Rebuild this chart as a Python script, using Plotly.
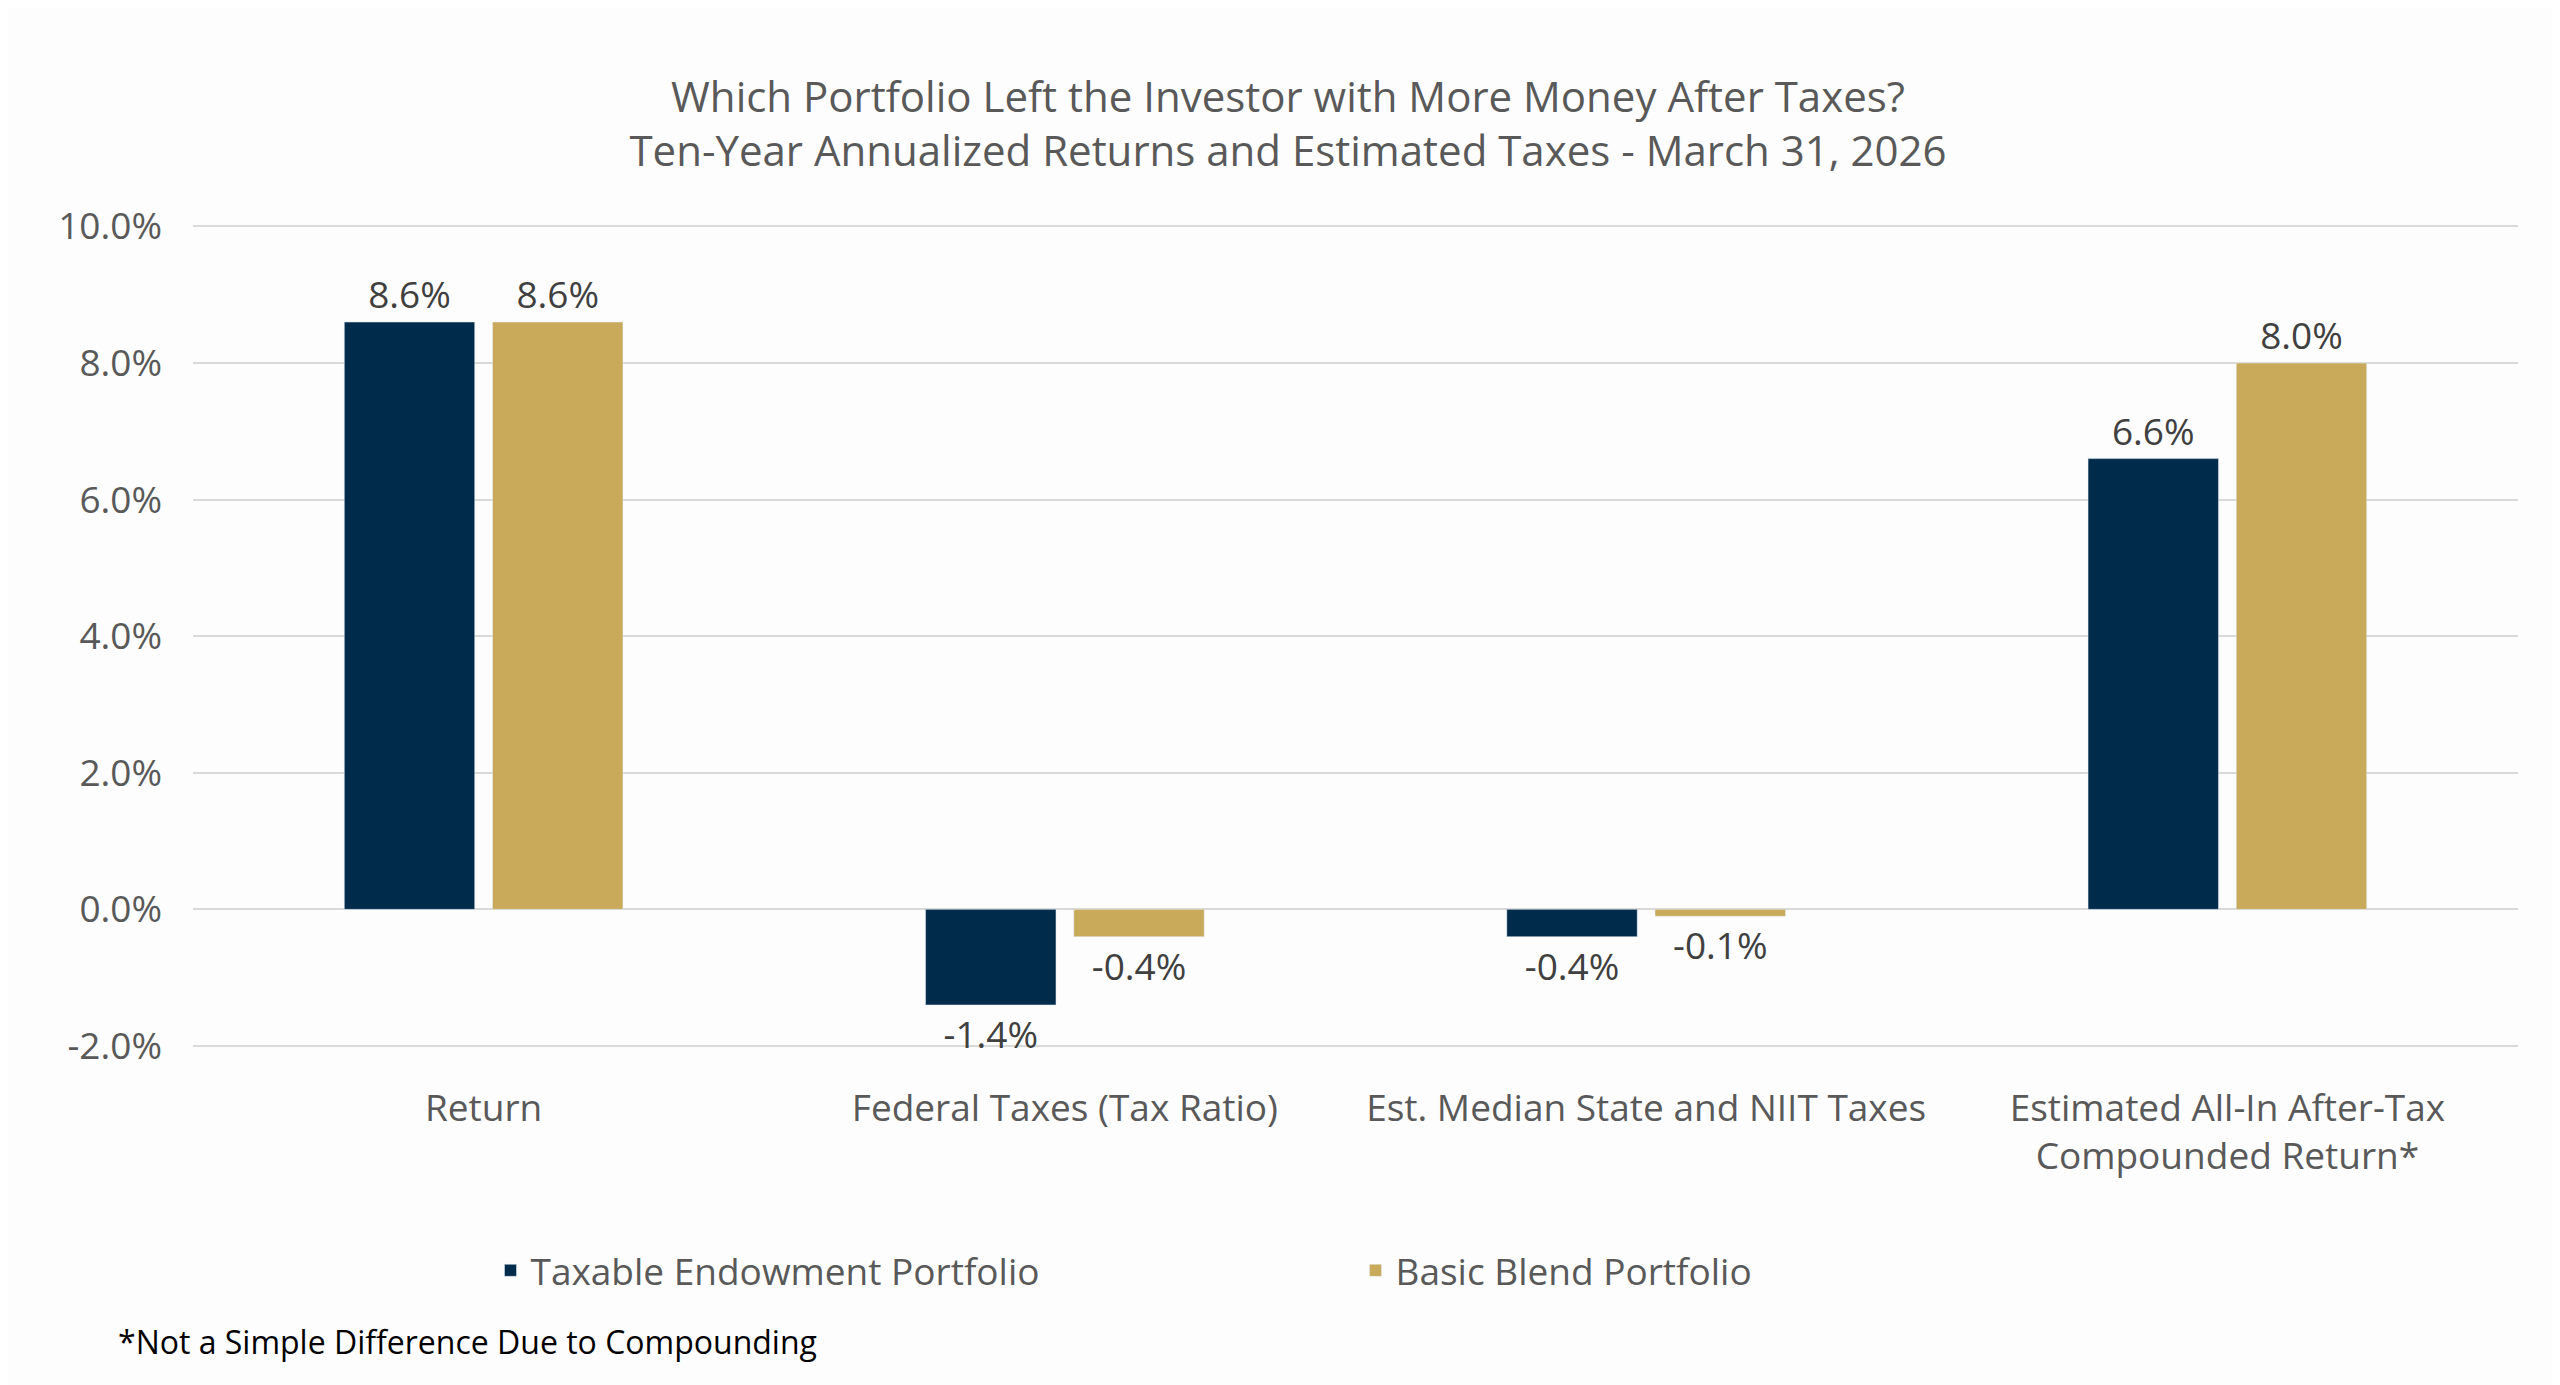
import plotly.graph_objects as go

categories = ["Return", "Federal Taxes (Tax Ratio)", "Est. Median State and NIIT Taxes",
              "Estimated All-In After-Tax<br>Compounded Return*"]
taxable = [8.6, -1.4, -0.4, 6.6]
basic = [8.6, -0.4, -0.1, 8.0]
series_names = ["Taxable Endowment Portfolio", "Basic Blend Portfolio"]
tick_vals = [-2, 0, 2, 4, 6, 8, 10]
tick_text = ["-2.0%", "0.0%", "2.0%", "4.0%", "6.0%", "8.0%", "10.0%"]

FONT = "Open Sans"
fig = go.Figure()
for name, vals, col in [(series_names[0], taxable, "#002B4B"), (series_names[1], basic, "#C9AA5B")]:
    fig.add_bar(x=categories, y=vals, name=name, marker_color=col,
                text=[f"{v:.1f}%" for v in vals], textposition="outside",
                textfont=dict(size=37, color="#404040", family=FONT), cliponaxis=False)

fig.update_layout(
    width=2560, height=1385, paper_bgcolor="#FDFDFD", plot_bgcolor="#FDFDFD",
    margin=dict(l=185, r=50, t=215, b=345),
    barmode="group", bargap=0.49, bargroupgap=0.12,
    font=dict(family=FONT, color="#595959", size=37),
    title=dict(text="Which Portfolio Left the Investor with More Money After Taxes?<br>Ten-Year Annualized Returns and Estimated Taxes - March 31, 2026",
               x=0.5, xanchor="center", y=0.925, yanchor="middle", yref="container",
               font=dict(size=42, color="#595959")),
    yaxis=dict(range=[-2.03, 10.05], tickvals=tick_vals, ticktext=tick_text, showgrid=True,
               gridcolor="#D9D9D9", gridwidth=2, zeroline=True, zerolinecolor="#D9D9D9", zerolinewidth=2,
               tickfont=dict(size=37, color="#595959"), ticks="", ticklabelstandoff=30),
    xaxis=dict(showline=False, tickfont=dict(size=37, color="#595959"), ticks="", ticklabelstandoff=35),
    legend=dict(orientation="h", x=0.5, xanchor="center", y=-0.27, yanchor="middle",
                font=dict(size=37, color="#595959"), entrywidth=820, entrywidthmode="pixels",
                bgcolor="rgba(0,0,0,0)"),
    annotations=[dict(text="*Not a Simple Difference Due to Compounding", xref="paper", yref="paper",
                      x=-0.033, xanchor="left", y=-0.356, yanchor="middle", showarrow=False,
                      font=dict(size=32, color="#000000"))],
)
fig.write_html("out.html")
